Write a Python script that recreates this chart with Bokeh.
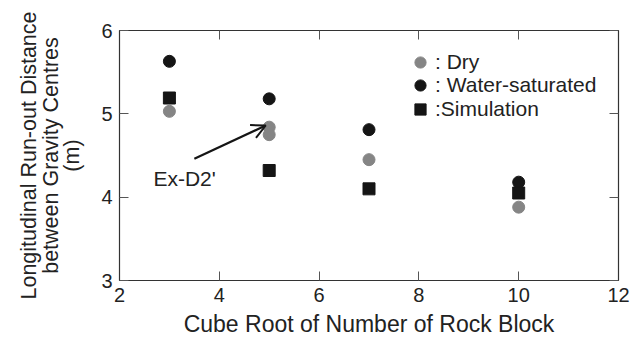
from bokeh.plotting import figure
from bokeh.models import (Range1d, LinearAxis, FixedTicker, Legend, LegendItem, Arrow,
                          OpenHead, Label, CustomLabelingPolicy)
from bokeh.embed import file_html
from bokeh.resources import INLINE

# Data
x_dry = [3, 5, 5, 7, 10]
y_dry = [5.03, 4.84, 4.75, 4.45, 3.88]
x_wet = [3, 5, 7, 10]
y_wet = [5.63, 5.18, 4.81, 4.18]
x_sim = [3, 5, 7, 10]
y_sim = [5.19, 4.32, 4.10, 4.05]
x_ticks = [2, 4, 6, 8, 10, 12]
y_ticks = [3, 4, 5, 6]
legend_labels = [": Dry", ": Water-saturated", ":Simulation"]
annot_text = "Ex-D2'"

FONT = "Liberation Sans"
TXT = "#222222"
GRAY = "#858585"
BLACK = "#151515"

p = figure(width=632, height=344, output_backend="svg", toolbar_location=None,
           x_range=Range1d(2, 12), y_range=Range1d(3, 6),
           min_border_left=119, min_border_right=14, min_border_top=30, min_border_bottom=64)
p.xgrid.visible = False
p.ygrid.visible = False
p.outline_line_color = "#333333"
p.outline_line_width = 1.2

for ax, tk in ((p.xaxis[0], x_ticks), (p.yaxis[0], y_ticks)):
    ax.ticker = FixedTicker(ticks=tk)
    ax.major_tick_in = 9
    ax.major_tick_out = 0
    ax.minor_tick_line_color = None
    ax.axis_line_color = "#333333"
    ax.major_tick_line_color = "#555555"
    ax.major_label_text_font = FONT
    ax.major_label_text_font_size = "20px"
    ax.major_label_text_color = TXT
    ax.axis_label_text_font = FONT
    ax.axis_label_text_font_style = "normal"
    ax.axis_label_text_color = TXT
    ax.major_label_standoff = 7

p.xaxis.axis_label = "Cube Root of Number of Rock Block"
p.xaxis.axis_label_text_font_size = "23px"
p.xaxis.axis_label_standoff = 6
p.yaxis.axis_label = "Longitudinal Run-out Distance\nbetween Gravity Centres\n(m)"
p.yaxis.axis_label_text_font_size = "21.5px"
p.yaxis.axis_label_standoff = 14
p.yaxis.axis_label_text_align = "center"
p.yaxis.axis_label_text_line_height = 0.9

no_labels = CustomLabelingPolicy(code="return new indices.constructor(indices.size, 0);")
top = LinearAxis(ticker=FixedTicker(ticks=x_ticks), major_label_policy=no_labels,
                 major_tick_in=9, major_tick_out=0, minor_tick_line_color=None,
                 axis_line_color="#333333", major_tick_line_color="#555555")
right = LinearAxis(ticker=FixedTicker(ticks=y_ticks), major_label_policy=no_labels,
                   major_tick_in=9, major_tick_out=0, minor_tick_line_color=None,
                   axis_line_color="#333333", major_tick_line_color="#555555")
p.add_layout(top, "above")
p.add_layout(right, "right")

r_dry = p.scatter(x_dry, y_dry, marker="circle", size=12, fill_color=GRAY, line_color=GRAY)
r_wet = p.scatter(x_wet, y_wet, marker="circle", size=12, fill_color=BLACK, line_color=BLACK)
r_sim = p.scatter(x_sim, y_sim, marker="square", size=12, fill_color=BLACK, line_color=BLACK)

# one legend per entry so that glyphs can be large while rows stay close together
for lab, rend, ly in ((legend_labels[0], r_dry, 204),
                      (legend_labels[1], r_wet, 181),
                      (legend_labels[2], r_sim, 157)):
    lg = Legend(items=[LegendItem(label=lab, renderers=[rend])],
                location=(287, ly), border_line_color=None, background_fill_alpha=0,
                padding=0, margin=0, spacing=0, glyph_width=28, glyph_height=28,
                label_standoff=1, label_height=23,
                label_text_font=FONT, label_text_font_size="21px", label_text_color=TXT)
    p.add_layout(lg, "center")

p.add_layout(Arrow(end=OpenHead(size=14, line_width=2, line_color=BLACK),
                   x_start=3.50, y_start=4.46, x_end=4.93, y_end=4.86,
                   line_width=2.2, line_color=BLACK))
p.add_layout(Label(x=2.68, y=4.22, text=annot_text, text_font=FONT, text_font_size="21px",
                   text_color=TXT, text_baseline="middle", text_align="left"))

open("out.html", "w").write(file_html(p, INLINE))
